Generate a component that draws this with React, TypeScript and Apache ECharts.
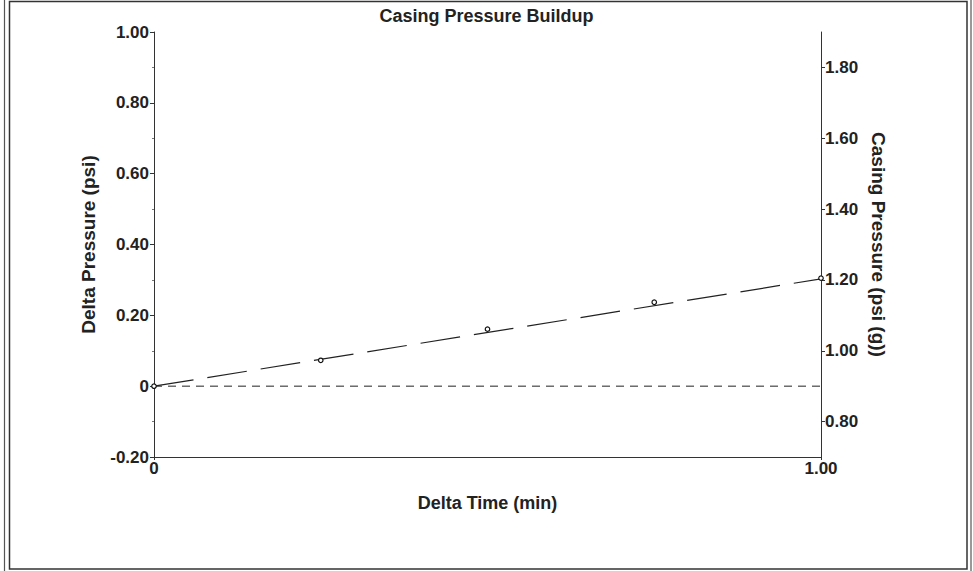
import React, { useEffect, useRef } from "react";
import * as echarts from "echarts";

const deltaTime = [0, 0.25, 0.5, 0.75, 1.0];
const deltaPressure = [0, 0.073, 0.161, 0.237, 0.305];
const fitTime = [0, 1.0];
const fitPressure = [0, 0.303];
const baseTime = [0, 1.0];
const basePressure = [0, 0];
const casingTicks = [0.8, 1.0, 1.2, 1.4, 1.6, 1.8];

const FONT = "'Liberation Sans', Arial, sans-serif";
const INK = "#222";

export default function App() {
  const ref = useRef<HTMLDivElement>(null);
  useEffect(() => {
    if (!ref.current) return;
    const chart = echarts.init(ref.current, undefined, { renderer: "svg" });
    const fmt = (v: number) => (Math.abs(v) < 1e-9 ? "0" : v.toFixed(2));
    chart.setOption({
      animation: false,
      backgroundColor: "#fff",
      textStyle: { fontFamily: FONT },
      title: {
        text: "Casing Pressure Buildup",
        left: "center",
        top: 2,
        textStyle: { fontFamily: FONT, fontSize: 18, fontWeight: "bold", color: INK },
      },
      grid: { left: 154, right: 152, top: 32, bottom: 114, containLabel: false },
      xAxis: {
        type: "value",
        min: 0,
        max: 1,
        interval: 1,
        name: "Delta Time (min)",
        nameLocation: "middle",
        nameGap: 37,
        nameTextStyle: { fontFamily: FONT, fontSize: 18, fontWeight: "bold", color: INK },
        axisLine: { show: true, onZero: false, lineStyle: { color: "#333", width: 1 } },
        axisTick: { show: true, length: 3, lineStyle: { color: "#333" } },
        axisLabel: {
          formatter: fmt,
          fontFamily: FONT,
          fontSize: 17,
          fontWeight: "bold",
          color: INK,
          margin: 3,
          showMinLabel: true,
          showMaxLabel: true,
        },
        splitLine: { show: false },
      },
      yAxis: [
        {
          type: "value",
          min: -0.2,
          max: 1.0,
          interval: 0.2,
          name: "Delta Pressure (psi)",
          nameLocation: "middle",
          nameGap: 56,
          nameTextStyle: { fontFamily: FONT, fontSize: 19, fontWeight: "bold", color: INK },
          axisLine: { show: true, onZero: false, lineStyle: { color: "#333", width: 1 } },
          axisTick: { show: true, length: 4, lineStyle: { color: "#333" } },
          minorTick: { show: true, splitNumber: 2, length: 2, lineStyle: { color: "#777" } },
          axisLabel: {
            formatter: fmt,
            fontFamily: FONT,
            fontSize: 17,
            fontWeight: "bold",
            color: INK,
            margin: 5,
          },
          splitLine: { show: false },
        },
        {
          type: "value",
          min: 0.7,
          max: 1.9,
          position: "right",
          name: "Casing Pressure (psi (g))",
          nameLocation: "middle",
          nameGap: 41,
          nameRotate: -90,
          nameTextStyle: { fontFamily: FONT, fontSize: 19, fontWeight: "bold", color: INK },
          axisLine: { show: true, onZero: false, lineStyle: { color: "#333", width: 1 } },
          axisTick: { show: true, length: 4, customValues: casingTicks, lineStyle: { color: "#333" } },
          axisLabel: {
            customValues: casingTicks,
            formatter: (v: number) => v.toFixed(2),
            fontFamily: FONT,
            fontSize: 17,
            fontWeight: "bold",
            color: INK,
            margin: 4,
          },
          splitLine: { show: false },
        },
      ],
      series: [
        {
          type: "line",
          data: baseTime.map((t, i) => [t, basePressure[i]]),
          symbol: "none",
          lineStyle: { color: "#222", width: 1, type: [8, 6] },
          silent: true,
          z: 2,
        },
        {
          type: "line",
          data: fitTime.map((t, i) => [t, fitPressure[i]]),
          symbol: "none",
          lineStyle: { color: "#222", width: 1.2, type: [40, 14] },
          silent: true,
          z: 2,
        },
        {
          type: "scatter",
          data: deltaTime.map((t, i) => [t, deltaPressure[i]]),
          symbol: "circle",
          symbolSize: 4.5,
          itemStyle: { color: "#fff", borderColor: "#111", borderWidth: 1.2, opacity: 1 },
          z: 5,
        },
      ],
      graphic: [
        {
          type: "rect",
          shape: { x: 9.5, y: 1.5, width: 957.5, height: 567.5 },
          style: { fill: "none", stroke: "#333", lineWidth: 1.5 },
          silent: true,
        },
        {
          type: "line",
          shape: { x1: 4.5, y1: 0, x2: 4.5, y2: 571 },
          style: { stroke: "#555", lineWidth: 1.2 },
          silent: true,
        },
        {
          type: "line",
          shape: { x1: 971, y1: 0, x2: 971, y2: 571 },
          style: { stroke: "#555", lineWidth: 1.2 },
          silent: true,
        },
      ],
    });
    return () => chart.dispose();
  }, []);
  return (
    <div
      ref={ref}
      style={{ position: "fixed", left: 0, top: 0, width: 973, height: 571 }}
    />
  );
}
